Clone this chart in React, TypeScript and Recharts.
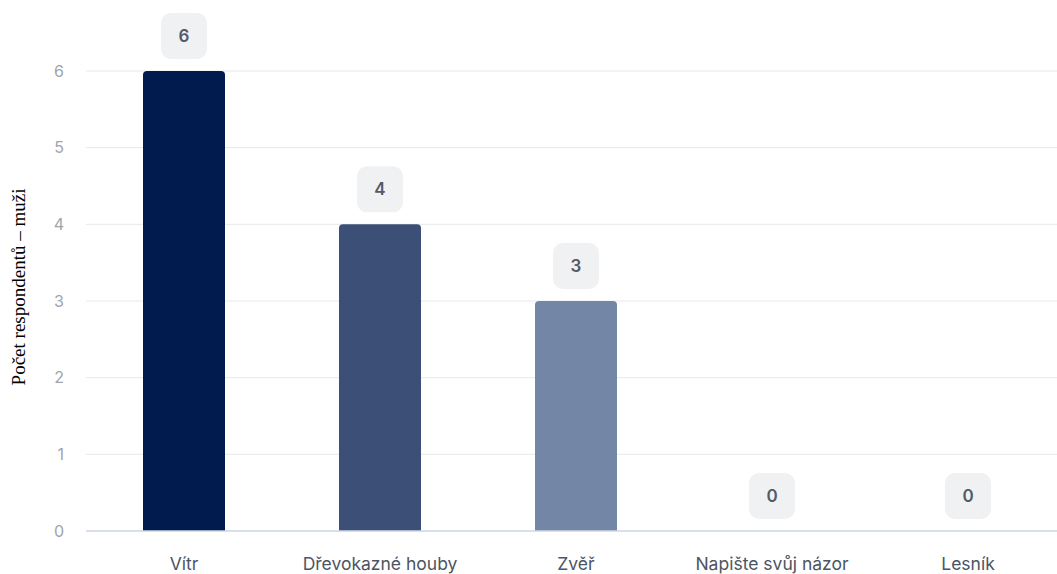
import { BarChart, Bar, XAxis, YAxis, CartesianGrid, LabelList, Cell } from 'recharts';

const CATEGORIES = ['Vítr', 'Dřevokazné houby', 'Zvěř', 'Napište svůj názor', 'Lesník'];
const COUNTS = [6, 4, 3, 0, 0];
const COLORS = ['#021b4f', '#3c4f76', '#7486a6', '#a7b4cb', '#c9d2e0'];
const Y_TICKS = [0, 1, 2, 3, 4, 5, 6];
const Y_TITLE = 'Počet respondentů – muži';

const data = CATEGORIES.map((name, i) => ({ name, value: COUNTS[i] }));

const ValueBadge = (props: any) => {
  const { x, y, width, height, value } = props;
  const cx = x + width / 2;
  // zero bars get a 1px min size, anchor badge on the baseline
  const top = value === 0 ? y + height : y;
  const cy = top - 35;
  return (
    <g>
      <rect x={cx - 23} y={cy - 23} width={46} height={46} rx={10} fill="#f0f1f2" />
      <text x={cx} y={cy} textAnchor="middle" dominantBaseline="central" fill="#515b6b" fontSize={17} fontWeight={600} fontFamily="Inter, sans-serif">
        {value}
      </text>
    </g>
  );
};

const YTitle = (props: any) => {
  const { viewBox } = props;
  const cx = 18;
  const cy = viewBox.y + viewBox.height / 2 - 14;
  return (
    <text x={cx} y={cy} transform={`rotate(-90 ${cx} ${cy})`} textAnchor="middle" dominantBaseline="central" fill="#000" fontSize={19} fontFamily="'Liberation Serif', 'Times New Roman', serif">
      {Y_TITLE}
    </text>
  );
};

export default function App() {
  return (
    <div style={{ position: 'fixed', left: 0, top: 0, width: 1057, height: 574, background: '#fff', overflow: 'hidden' }}>
      <BarChart width={1066} height={574} data={data} margin={{ top: 71, right: 0, left: 0, bottom: 0 }}>
        <CartesianGrid vertical={false} stroke="#e6e8eb" />
        <XAxis
          dataKey="name"
          height={43}
          axisLine={{ stroke: '#cfdaea', strokeWidth: 1.5 }}
          tickLine={false}
          tickMargin={21}
          tick={{ fill: '#4b5563', fontSize: 17.5, fontFamily: 'Inter, sans-serif' }}
          interval={0}
        />
        <YAxis
          width={86}
          domain={[0, 6]}
          ticks={Y_TICKS}
          axisLine={false}
          tickLine={false}
          tickMargin={16}
          tick={{ fill: '#a0a4ab', fontSize: 16, fontFamily: 'Inter, sans-serif' }}
          label={<YTitle />}
        />
        <Bar dataKey="value" barSize={82} radius={[4, 4, 0, 0]} minPointSize={1} isAnimationActive={false}>
          {data.map((d, i) => (
            <Cell key={d.name} fill={d.value === 0 ? 'transparent' : COLORS[i]} />
          ))}
          <LabelList dataKey="value" content={<ValueBadge />} />
        </Bar>
      </BarChart>
    </div>
  );
}
